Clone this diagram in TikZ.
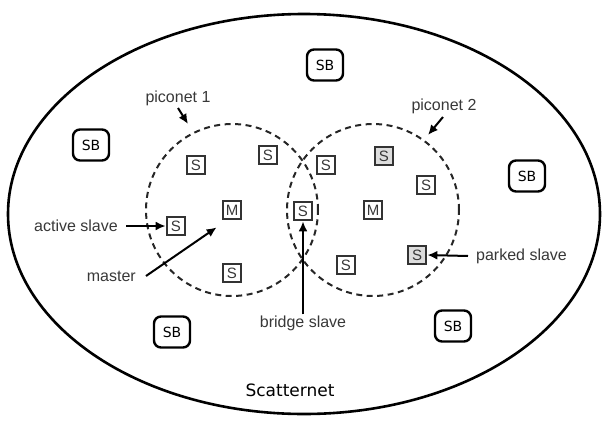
\documentclass[tikz,border=0pt]{standalone}
\usepackage{fontspec}
\setmainfont{Liberation Sans}
\newfontfamily\handfont{DejaVu Sans}
\usetikzlibrary{arrows.meta,shapes.geometric}
\definecolor{txt}{HTML}{383838}
\definecolor{parked}{HTML}{DDDDDD}
\begin{document}
\begin{tikzpicture}[x=1pt,y=-1pt,
  dev/.style={draw=black!80,line width=2.2pt,minimum size=18.5pt,inner sep=0pt,font=\fontsize{15}{15}\selectfont,text=txt},
  pdev/.style={dev,fill=parked},
  sb/.style={draw=black,line width=2.4pt,rounded corners=7pt,minimum width=36pt,minimum height=31pt,inner sep=0pt,font=\handfont\fontsize{14}{14}\selectfont},
  pico/.style={circle,draw=black!85,dash pattern=on 6pt off 4.5pt,line width=2pt,minimum size=172pt,inner sep=0pt},
  lbl/.style={font=\fontsize{16}{16}\selectfont,text=txt,inner sep=1pt},
  arr/.style={-{Latex[length=10pt,width=9pt]},line width=2pt}]
\useasboundingbox (0,0) rectangle (606,424);
% scatternet
\node[draw,ellipse,line width=2.6pt,minimum width=592pt,minimum height=400pt,inner sep=0pt] (scat) at (304,214) {};
\node[font=\handfont\fontsize{17}{17}\selectfont] (scatl) at (290,390) {Scatternet};
% piconets
\node[pico] (pc1) at (232,210) {};
\node[pico] (pc2) at (373,210) {};
% piconet 1 devices
\node[dev] (s1) at (196,165) {S};
\node[dev] (s2) at (268,155) {S};
\node[dev] (m1) at (232,210) {M};
\node[dev] (s3) at (176,226) {S};
\node[dev] (s4) at (232,273) {S};
% bridge
\node[dev] (br) at (303,211) {S};
% piconet 2 devices
\node[dev] (s5) at (326,165) {S};
\node[pdev] (s6) at (384,156) {S};
\node[dev] (s7) at (426,185) {S};
\node[dev] (m2) at (373,210) {M};
\node[pdev] (s8) at (417,255) {S};
\node[dev] (s9) at (346,265) {S};
% standby
\node[sb] (sb1) at (325,65) {SB};
\node[sb] (sb2) at (91,145) {SB};
\node[sb] (sb3) at (527,176) {SB};
\node[sb] (sb4) at (172,332) {SB};
\node[sb] (sb5) at (453,326) {SB};
% labels
\node[lbl] (lp1) at (178,98) {piconet 1};
\node[lbl] (lp2) at (444,106) {piconet 2};
\node[lbl,anchor=east] (la) at (119,226) {active slave};
\node[lbl,anchor=east] (lm) at (137,276) {master};
\node[lbl] (lb) at (303,323) {bridge slave};
\node[lbl,anchor=west] (lpk) at (475,256) {parked slave};
% arrows
\coordinate (p1s) at (178,108);
\coordinate (p1e) at (188,124);
\coordinate (p2s) at (443,117);
\coordinate (p2e) at (428,135);
\draw[arr] (p1s) -- (p1e);
\draw[arr] (p2s) -- (p2e);
\draw[arr] (la.east) ++(7,0) coordinate (las) -- (s3.west);
\draw[arr] (lm.east) ++(9,0) coordinate (lms) -- ([shift={(-5,7)}]m1.south west);
\draw[arr] (lb.north) -- (br.south);
\draw[arr] (lpk.west) ++(-7,0) coordinate (lps) -- (s8.east);
\end{tikzpicture}
\end{document}
